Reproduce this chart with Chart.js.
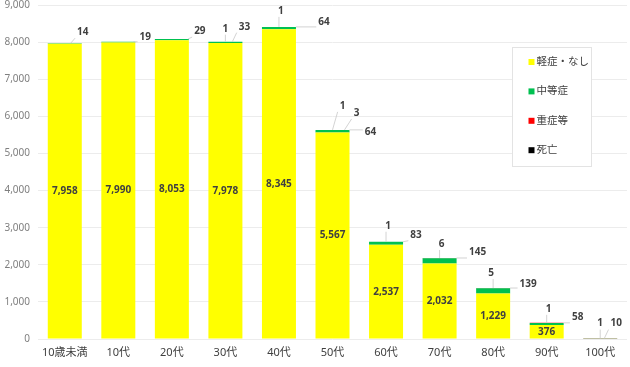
<!DOCTYPE html>
<html><head><meta charset="utf-8">
<script src="https://cdn.jsdelivr.net/npm/chart.js@4"></script>
<style>html,body{margin:0;padding:0;background:#fff}#wrap{width:630px;height:367px}</style>
</head><body><div id="wrap"><canvas id="c" width="630" height="367"></canvas></div>
<script>
const categories = ['10歳未満','10代','20代','30代','40代','50代','60代','70代','80代','90代','100代'];
const mild     = [7958,7990,8053,7978,8345,5567,2537,2032,1229,376,0];
const moderate = [14,19,29,33,64,64,83,145,139,58,10];
const severe   = [0,0,0,1,1,3,1,6,5,1,1];
const death    = [0,0,0,0,0,1,0,0,0,0,0];
const seriesNames = ['軽症・なし','中等症','重症等','死亡'];
const yTicks = [0,1000,2000,3000,4000,5000,6000,7000,8000,9000];

// label placement (text offsets from stack top at bar centre), layout only
const modOff = [[18,-11],[27,-5],[28,-8],[19,-15],[45,-5],[38,2],[30,-7],[38,-6],[35,-4],[31,-6],[16,-15]];
const sevOff = [null,null,null,[0,-13],[2,-16],[24,-17],[2,-16],[2,-14],[-2,-15],[2,-14],[0,-15]];
const deathOff = [null,null,null,null,null,[10,-24],null,null,null,null,null];

const colors = ['#FFFF00','#00C050','#FF0000','#000000'];
const fmt = v => v.toLocaleString('en-US');
const NUMFONT = "'Noto Sans','Noto Sans CJK JP',sans-serif";

const labelPlugin = {
  id: 'labels',
  afterDatasetsDraw(chart) {
    const ctx = chart.ctx;
    const metas = [0,1,2,3].map(i => chart.getDatasetMeta(i));
    const ys = chart.scales.y;
    ctx.save();
    ctx.font = "bold 10px " + NUMFONT;
    ctx.textAlign = 'center';
    ctx.textBaseline = 'middle';
    categories.forEach((c, i) => {
      const bar = metas[0].data[i];
      const x = bar.x, half = bar.width / 2;
      const total = mild[i] + moderate[i] + severe[i] + death[i];
      const top = ys.getPixelForValue(total);
      if (mild[i] > 0) {
        ctx.fillStyle = '#404040';
        ctx.fillText(fmt(mild[i]), x, (bar.y + bar.base) / 2);
      }
      const callout = (val, off) => {
        if (!off || !val) return;
        const tx = x + off[0], ty = top + off[1];
        const w = ctx.measureText(fmt(val)).width;
        const ax = x + Math.max(0, Math.min(half, off[0] - 12));
        const ay = top;
        const l = tx - w/2 - 2, r = tx + w/2 + 2, t = ty - 6, b = ty + 6;
        const ex = Math.max(l, Math.min(r, ax)), ey = Math.max(t, Math.min(b, ay));
        ctx.strokeStyle = '#c8c8c8';
        ctx.lineWidth = 0.8;
        ctx.beginPath(); ctx.moveTo(ax, ay); ctx.lineTo(ex, ey); ctx.stroke();
        ctx.fillStyle = '#404040';
        ctx.fillText(fmt(val), tx, ty);
      };
      callout(moderate[i], modOff[i]);
      callout(severe[i], sevOff[i]);
      callout(death[i], deathOff[i]);
    });
    // legend box
    const bx = 512, by = 47, bw = 79, bh = 119;
    ctx.fillStyle = '#ffffff';
    ctx.fillRect(bx, by, bw, bh);
    ctx.strokeStyle = '#e3e3e3';
    ctx.lineWidth = 1;
    ctx.strokeRect(bx + 0.5, by + 0.5, bw, bh);
    ctx.font = "10.5px " + NUMFONT;
    ctx.textAlign = 'left';
    chart.data.datasets.forEach((ds, k) => {
      const iy = 62 + k * 29.4;
      ctx.fillStyle = ds.backgroundColor;
      ctx.fillRect(528.5, iy - 3, 6, 6);
      ctx.fillStyle = '#404040';
      ctx.fillText(ds.label, 536.5, iy);
    });
    ctx.restore();
  }
};

new Chart(document.getElementById('c'), {
  type: 'bar',
  data: {
    labels: categories,
    datasets: [mild, moderate, severe, death].map((d, k) => ({
      label: seriesNames[k], data: d, backgroundColor: colors[k],
      borderWidth: 0, barPercentage: 0.635, categoryPercentage: 1.0
    }))
  },
  options: {
    responsive: false, animation: false,
    layout: { padding: { top: 5, right: 3, left: 0, bottom: 0 } },
    plugins: { legend: { display: false }, tooltip: { enabled: false } },
    scales: {
      x: {
        stacked: true,
        grid: { display: false, drawTicks: false },
        border: { display: false },
        ticks: { color: '#404040', font: { family: NUMFONT, size: 11 }, padding: 7, maxRotation: 0 },
        afterFit(s) { s.height = 28; s.paddingLeft = 0; s.paddingRight = 0; }
      },
      y: {
        stacked: true, min: 0, max: 9000,
        afterBuildTicks(s) { s.ticks = yTicks.map(v => ({ value: v })); },
        grid: { color: '#ececec', drawTicks: false, lineWidth: 1 },
        border: { display: false },
        ticks: { color: '#7f7f7f', font: { family: NUMFONT, size: 10 }, padding: 8, callback: v => fmt(v) },
        afterFit(s) { s.width = 38; s.paddingTop = 0; s.paddingBottom = 0; }
      }
    }
  },
  plugins: [labelPlugin]
});
</script></body></html>
